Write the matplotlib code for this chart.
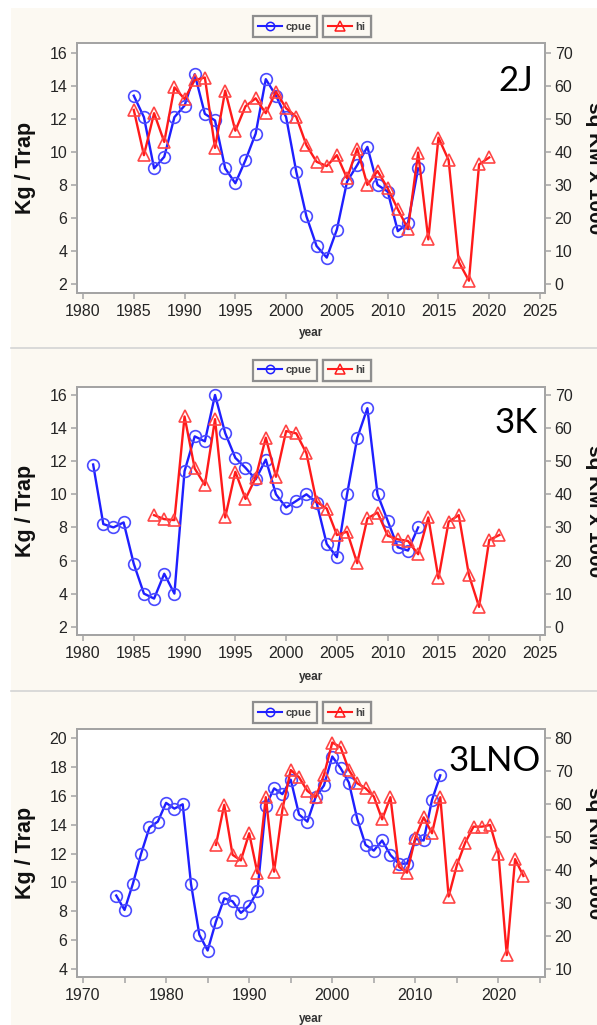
import numpy as np
import matplotlib
matplotlib.use('Agg')
import matplotlib.pyplot as plt
from matplotlib.lines import Line2D
from matplotlib.patches import Rectangle

W, H = 597, 1025

# --- data ---
# 2J
cpue_2j_start = 1985
cpue_2j = [13.4, 12.1, 9.0, 9.7, 12.1, 12.8, 14.7, 12.3, 11.9, 9.0,
           8.1, 9.5, 11.1, 14.4, 13.4, 12.1, 8.8, 6.1, 4.3, 3.6,
           5.3, 8.2, 9.2, 10.3, 8.0, 7.6, 5.2, 5.7, 9.0]
hi_2j_start = 1985
hi_2j = [52.7, 39.0, 51.7, 43.0, 59.5, 56.0, 61.7, 62.5, 41.2, 58.5,
         46.4, 53.8, 56.2, 51.7, 58.2, 53.2, 50.6, 42.0, 37.0, 35.7,
         39.0, 32.0, 41.0, 30.0, 34.2, 29.0, 22.6, 16.7, 39.8, 13.5,
         44.3, 37.5, 6.7, 1.0, 36.2, 38.3]

# 3K
cpue_3k_start = 1981
cpue_3k = [11.8, 8.2, 8.0, 8.3, 5.8, 4.0, 3.7, 5.2, 4.0, 11.4,
           13.5, 13.2, 16.0, 13.7, 12.2, 11.6, 10.9, 12.1, 10.0, 9.2,
           9.6, 10.0, 9.5, 7.0, 6.2, 10.0, 13.4, 15.2, 10.0, 8.4,
           6.8, 6.6, 8.0]
hi_3k_start = 1987
hi_3k = [33.7, 32.5, 32.2, 63.5, 47.8, 42.8, 62.7, 33.0, 46.8, 38.6,
         45.0, 57.1, 45.3, 59.1, 58.4, 52.4, 37.7, 35.7, 27.7, 28.7,
         19.2, 32.7, 34.5, 27.5, 26.4, 25.9, 21.9, 33.0, 14.6, 31.7,
         33.7, 15.6, 6.0, 26.2, 27.7]

# 3LNO
cpue_3lno_start = 1974
cpue_3lno = [9.1, 8.1, 9.9, 12.0, 13.8, 14.2, 15.5, 15.1, 15.4, 9.9,
             6.4, 5.3, 7.3, 8.9, 8.7, 7.9, 8.4, 9.4, 15.3, 16.5,
             16.1, 17.1, 14.7, 14.2, 15.9, 16.7, 18.7, 17.9, 16.9, 14.4,
             12.6, 12.2, 12.9, 11.9, 11.3, 11.3, 13.0, 12.9, 15.7, 17.4]
hi_3lno_start = 1986
hi_3lno = [47.6, 59.7, 44.6, 42.9, 51.1, 39.0, 62.0, 39.5, 58.3, 70.2,
           68.0, 63.9, 62.0, 68.7, 78.5, 77.1, 70.2, 66.2, 64.7, 62.2,
           55.3, 62.0, 41.0, 39.2, 49.8, 55.9, 51.1, 62.0, 32.0, 41.5,
           48.3, 53.1, 53.1, 53.6, 44.9, 14.3, 43.3, 38.2]

panels = [
    dict(name='2J', cpue=cpue_2j, cpue_start=cpue_2j_start, hi=hi_2j, hi_start=hi_2j_start,
         top=43.3, bottom=293.3, xlim=(1979.41, 2025.49), xticks=range(1980, 2026, 5), lstep=5,
         ylim=(1.44, 16.57), yticks=range(2, 17, 2), ylim2=(-2.8, 72.85), yticks2=range(0, 71, 10),
         label_top=0.912, label_right=0.974, year_y=333),
    dict(name='3K', cpue=cpue_3k, cpue_start=cpue_3k_start, hi=hi_3k, hi_start=hi_3k_start,
         top=386.7, bottom=635.0, xlim=(1979.41, 2025.49), xticks=range(1980, 2026, 5), lstep=5,
         ylim=(1.5, 16.5), yticks=range(2, 17, 2), ylim2=(-2.5, 72.5), yticks2=range(0, 71, 10),
         label_top=0.919, label_right=0.985, year_y=677),
    dict(name='3LNO', cpue=cpue_3lno, cpue_start=cpue_3lno_start, hi=hi_3lno, hi_start=hi_3lno_start,
         top=729.3, bottom=977.3, xlim=(1969.28, 2025.6), xticks=range(1970, 2026, 5), lstep=10,
         ylim=(3.45, 20.58), yticks=range(4, 21, 2), ylim2=(7.6, 82.5), yticks2=range(10, 81, 10),
         label_top=0.935, label_right=0.99, year_y=1019),
]

cream = '#fcf9f2'
frame = '#a4a4a4'
blue = '#1f1fff'
red = '#ff1a1a'
tick_font = 'Liberation Sans'

fig = plt.figure(figsize=(W / 100, H / 100), dpi=100)
fig.patch.set_facecolor('white')
fig.add_artist(Rectangle((11 / W, 0), 1 - 11 / W, 1 - 8 / H, transform=fig.transFigure,
                         facecolor=cream, edgecolor='none', zorder=-10))
for ysep in (348, 691):
    fig.add_artist(Line2D([11 / W, 1], [1 - ysep / H] * 2, color='#d4d4d4', lw=1.2))

left, right = 77, 545
for p in panels:
    ax = fig.add_axes([left / W, 1 - p['bottom'] / H, (right - left) / W, (p['bottom'] - p['top']) / H])
    ax.set_facecolor('white')
    ax2 = ax.twinx()

    x_c = np.arange(p['cpue_start'], p['cpue_start'] + len(p['cpue']))
    x_h = np.arange(p['hi_start'], p['hi_start'] + len(p['hi']))
    ax.plot(x_c, p['cpue'], color=blue, lw=1.7, marker='o', ms=8.4,
            mfc='none', mec='#4a4aff', mew=1.2, zorder=3)
    ax2.plot(x_h, p['hi'], color=red, lw=1.7, marker='^', ms=8.8,
             mfc='none', mec='#ff4545', mew=1.2, zorder=3)

    ax.set_xlim(*p['xlim'])
    ax.set_ylim(*p['ylim'])
    ax2.set_ylim(*p['ylim2'])
    ax.set_xticks(list(p['xticks']))
    ax.set_xticklabels([str(t) if t % p['lstep'] == 0 else '' for t in p['xticks']])
    ax.set_yticks(list(p['yticks']))
    ax2.set_yticks(list(p['yticks2']))

    for a in (ax, ax2):
        for s in a.spines.values():
            s.set_color(frame)
            s.set_linewidth(1.3)
        a.tick_params(direction='out', length=4.5, width=1.1, color=frame,
                      labelsize=11.5, labelcolor='#252525', pad=2.5)
        for lab in a.get_xticklabels() + a.get_yticklabels():
            lab.set_fontfamily(tick_font)
    ax.tick_params(axis='x', pad=3.5)

    ax.text(p['label_right'], p['label_top'], p['name'], transform=ax.transAxes,
            ha='right', va='top', fontsize=25, family='Lato', color='black')

    # two separate legend boxes above the plot
    h1 = Line2D([], [], color=blue, lw=1.5, marker='o', ms=6, mfc='none', mec=blue, mew=1.1)
    h2 = Line2D([], [], color=red, lw=1.5, marker='^', ms=6.5, mfc='none', mec=red, mew=1.1)
    for h, lab, xc in ((h1, 'cpue', 0.444), (h2, 'hi', 0.5765)):
        leg = ax2.legend([h], [lab], loc='lower center', bbox_to_anchor=(xc, 1.024),
                         frameon=True, fancybox=False, edgecolor='#8e8e8e', facecolor=cream,
                         framealpha=1, borderpad=0.5, handlelength=2.1, handletextpad=0.35,
                         borderaxespad=0, prop={'family': tick_font, 'size': 8, 'weight': 'bold'})
        leg.get_frame().set_linewidth(1.6)
        for t in leg.get_texts():
            t.set_color('#444444')
        ax2.add_artist(leg)

    yc = 1 - (p['top'] + p['bottom']) / 2 / H
    fig.text(26 / W, yc, 'Kg / Trap', rotation=90, ha='center', va='center',
             fontsize=15.5, fontweight='bold', family=tick_font, color='#111111')
    fig.text(585 / W, yc, 'sq KM x 1000', rotation=270, ha='left', va='center',
             fontsize=15, fontweight='bold', family=tick_font, color='#111111')
    fig.text((left + right) / 2 / W, 1 - p['year_y'] / H, 'year', ha='center', va='center',
             fontsize=8.5, fontweight='bold', family=tick_font, color='#333333')

fig.savefig('out.png', dpi=100, facecolor=fig.get_facecolor())
